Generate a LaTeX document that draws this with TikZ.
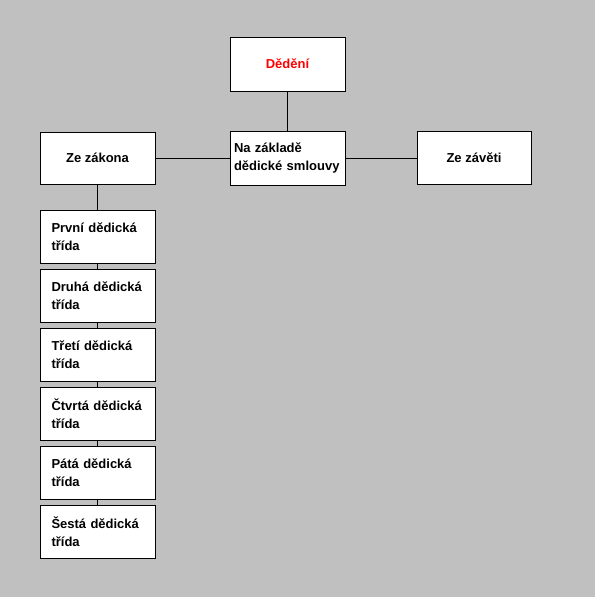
\documentclass[tikz,border=0pt]{standalone}
\usepackage{fontspec}
\setmainfont{Liberation Sans}
\definecolor{panelgray}{HTML}{C0C0C0}
\tikzset{
  box/.style={draw, line width=1pt, fill=white, minimum width=115pt, minimum height=53pt,
    inner sep=0pt, font=\bfseries\fontsize{13}{17.5}\selectfont},
  classbox/.style={box, text width=92pt, align=left},
  link/.style={line width=1pt},
}
\begin{document}
\begin{tikzpicture}[x=1pt,y=-1pt]

  \fill[panelgray] (0,0) rectangle (595,597);
  \useasboundingbox (0,0) rectangle (595,597);

  % top of the tree
  \node[box, minimum height=54pt, text=red] (dedeni) at (287.5,64) {Dědění};
  \node[box, minimum height=54pt, text width=107pt, align=left] (smlouva) at (287.5,158) {Na základě\\dědické smlouvy};
  \node[box, minimum height=52pt] (zakon) at (97.5,158) {Ze zákona};
  \node[box, minimum width=114pt] (zaveti) at (474,158) {Ze závěti};

  \draw[link] (dedeni) -- (smlouva);
  \draw[link] (zakon) -- (smlouva);
  \draw[link] (smlouva) -- (zaveti);

  % classes
  \foreach \name [count=\i] in {První, Druhá, Třetí, Čtvrtá, Pátá, Šestá}
    \node[classbox] (trida\i) at (97.5,177.5+59*\i) {\name\ dědická\\třída};

  \draw[link] (zakon) -- (trida1);
  \foreach \i/\j in {1/2,2/3,3/4,4/5,5/6}
    \draw[link] (trida\i) -- (trida\j);

\end{tikzpicture}
\end{document}
